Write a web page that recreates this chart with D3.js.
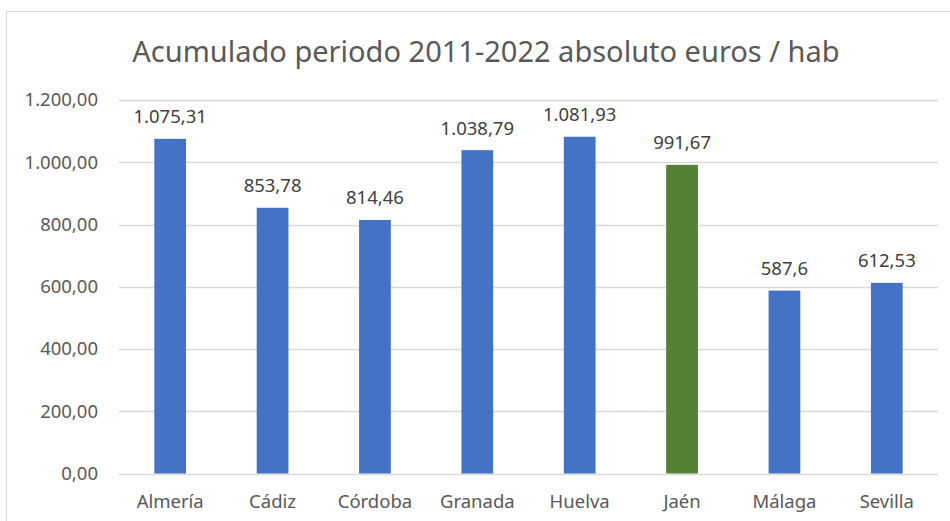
<!DOCTYPE html>
<html>
<head>
<meta charset="utf-8">
<script src="https://cdn.jsdelivr.net/npm/d3@7"></script>
<style>
  body { margin: 0; background: #fff; }
  text { font-family: "Noto Sans", "Open Sans", sans-serif; }
</style>
</head>
<body>
<div id="chart"></div>
<script>
//data
const provinces = ["Almería", "Cádiz", "Córdoba", "Granada", "Huelva", "Jaén", "Málaga", "Sevilla"];
const values = [1075.31, 853.78, 814.46, 1038.79, 1081.93, 991.67, 587.6, 612.53];
const valueLabels = ["1.075,31", "853,78", "814,46", "1.038,79", "1.081,93", "991,67", "587,6", "612,53"];
const yTicks = [0, 200, 400, 600, 800, 1000, 1200];
const highlighted = "Jaén";

const width = 950, height = 521;
const margin = { top: 100, right: 12, bottom: 47.5, left: 119 };

const svg = d3.select("#chart").append("svg")
  .attr("width", width)
  .attr("height", height);

//outer chart border (runs past the right and bottom edge)
svg.append("rect")
  .attr("x", 6.5).attr("y", 11.5)
  .attr("width", 960).attr("height", 530)
  .attr("fill", "none")
  .attr("stroke", "#d9d9d9");

const x = d3.scaleBand()
  .domain(provinces)
  .range([margin.left, width - margin.right])
  .paddingInner(0.69)
  .paddingOuter(0.345);

const y = d3.scaleLinear()
  .domain([0, 1200])
  .range([height - margin.bottom, margin.top]);

//gridlines
svg.append("g")
  .selectAll("line")
  .data(yTicks)
  .join("line")
  .attr("x1", margin.left)
  .attr("x2", width - margin.right)
  .attr("y1", d => Math.round(y(d)) + 0.5)
  .attr("y2", d => Math.round(y(d)) + 0.5)
  .attr("stroke", "#d9d9d9")
  .attr("stroke-width", 1.5);

//y axis labels
const fmt = d => d3.format(",.2f")(d).replace(/,/g, "#").replace(".", ",").replace(/#/g, ".");
svg.append("g")
  .selectAll("text")
  .data(yTicks)
  .join("text")
  .attr("x", 98)
  .attr("y", d => y(d))
  .attr("dy", "0.35em")
  .attr("text-anchor", "end")
  .attr("font-size", 18.5)
  .attr("fill", "#595959")
  .text(fmt);

//bars
svg.append("g")
  .selectAll("rect")
  .data(provinces)
  .join("rect")
  .attr("x", d => x(d))
  .attr("y", (d, i) => y(values[i]))
  .attr("width", x.bandwidth())
  .attr("height", (d, i) => y(0) - y(values[i]))
  .attr("fill", d => d === highlighted ? "#548235" : "#4472c4");

//value labels
svg.append("g")
  .selectAll("text")
  .data(provinces)
  .join("text")
  .attr("x", d => x(d) + x.bandwidth() / 2)
  .attr("y", (d, i) => y(values[i]) - 15.5)
  .attr("text-anchor", "middle")
  .attr("font-size", 18.5)
  .attr("fill", "#404040")
  .text((d, i) => valueLabels[i]);

//category labels
svg.append("g")
  .selectAll("text")
  .data(provinces)
  .join("text")
  .attr("x", d => x(d) + x.bandwidth() / 2)
  .attr("y", 508)
  .attr("text-anchor", "middle")
  .attr("font-size", 18.5)
  .attr("fill", "#595959")
  .text(d => d);

//title
svg.append("text")
  .attr("x", 486)
  .attr("y", 62)
  .attr("text-anchor", "middle")
  .attr("font-size", 29)
  .attr("fill", "#595959")
  .text("Acumulado periodo 2011-2022 absoluto euros / hab");
</script>
</body>
</html>
